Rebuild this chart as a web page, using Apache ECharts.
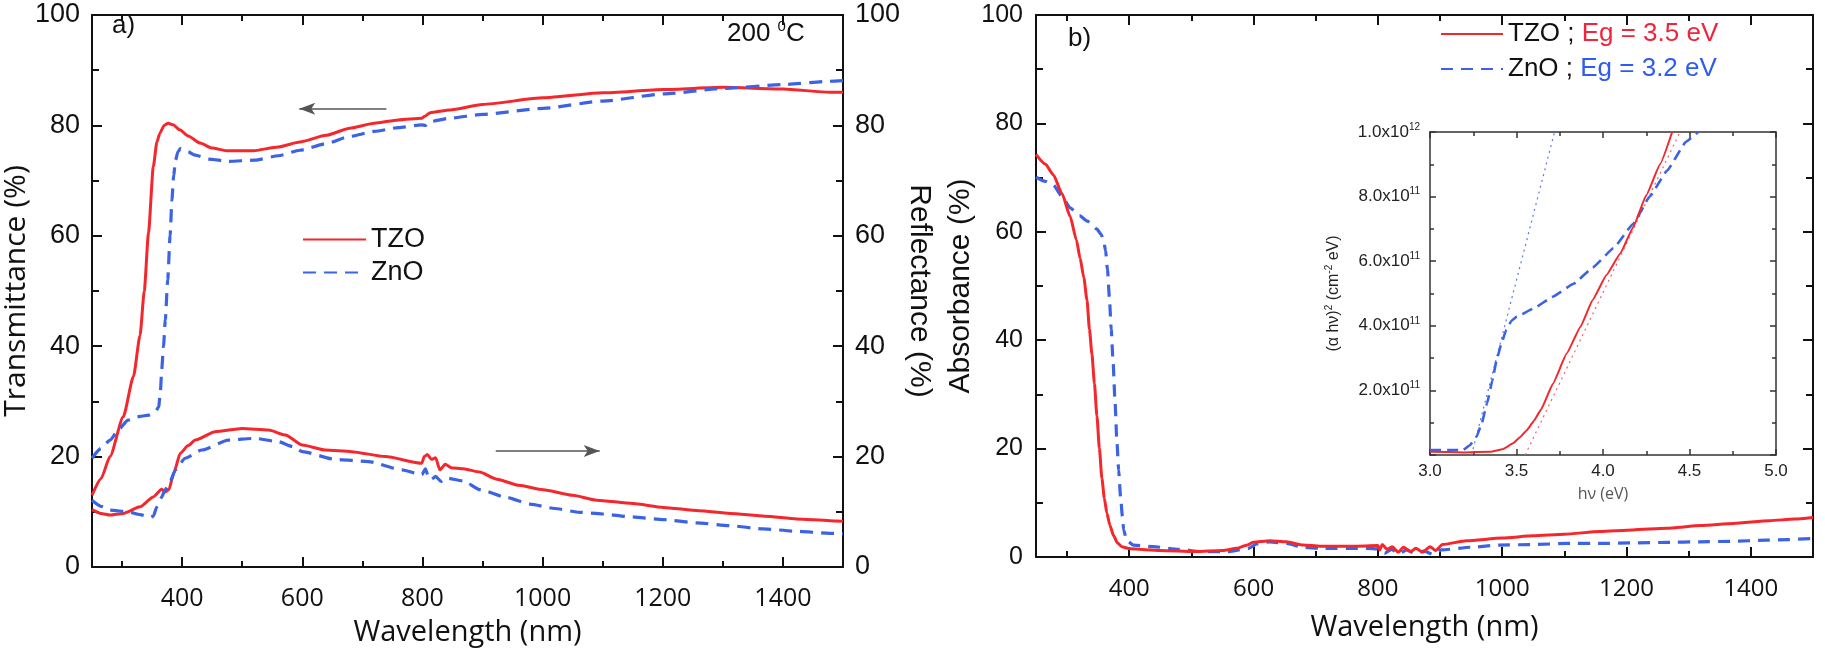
<!DOCTYPE html>
<html>
<head>
<meta charset="utf-8">
<title>TZO / ZnO optical spectra</title>
<script src="https://cdn.jsdelivr.net/npm/echarts@6/dist/echarts.min.js"></script>
<style>
html,body{margin:0;padding:0;background:#fff;}
#chart{width:1825px;height:651px;}
</style>
</head>
<body>
<div id="chart"></div>
<script>
// ---- data ----
// a) transmittance [wavelength nm, %]
var tzoTrans = [[250,13.0],[265,16],[280,20],[302,27.2],[319,34.5],[330,42],[337,50],[344,60.5],[352,72.5],[358,77],[363,78.6],[370,80],[377,80.4],[385,80.1],[396,79.2],[410,78.1],[430,76.8],[450,75.9],[474,75.4],[518,75.4],[560,76.1],[596,77.0],[640,78.2],[679,79.5],[720,80.4],[760,81.0],[799,81.3],[803,81.6],[813,82.3],[846,82.8],[900,83.8],[1001,85.0],[1100,85.9],[1201,86.5],[1301,86.9],[1400,86.6],[1478,86.0],[1500,86.0]];
var znoTrans = [[250,19.7],[265,21.5],[280,23],[295,25],[310,26.6],[330,27.3],[344,27.5],[355,28],[361,29],[364,32],[366,35.7],[369,40],[372,44.7],[376,52],[380,60],[383,66.5],[386,71],[389,73.7],[393,75.2],[397,75.8],[410,75.2],[422,74.6],[444,73.9],[477,73.5],[521,73.7],[560,74.5],[596,75.5],[640,76.7],[679,78.0],[720,78.9],[760,79.6],[799,80.1],[805,80.0],[813,80.7],[846,81.3],[900,82.0],[1001,83.1],[1100,84.4],[1201,85.7],[1301,86.7],[1400,87.4],[1478,88.0],[1500,88.1]];
// a) reflectance [wavelength nm, %]
var tzoRefl = [[250,10.4],[265,9.7],[280,9.4],[302,9.7],[330,10.9],[352,12.7],[366,14.1],[372,13.6],[378,14.0],[386,17.0],[397,20.6],[410,22.0],[422,23.0],[455,24.5],[500,25.1],[544,24.8],[572,23.9],[600,22.1],[638,21.2],[682,20.9],[738,20.0],[799,18.8],[803,20.0],[808,20.4],[815,19.5],[822,19.8],[829,17.6],[838,18.6],[848,18.0],[868,17.8],[895,17.2],[924,15.9],[960,14.8],[1001,14.0],[1050,13.0],[1090,12.1],[1150,11.5],[1201,10.8],[1260,10.2],[1312,9.7],[1370,9.2],[1423,8.7],[1478,8.4],[1500,8.3]];
var znoRefl = [[250,12.1],[265,11],[280,10.3],[310,10.0],[330,9.5],[347,9.0],[352,9.2],[358,10.9],[365,12.5],[372,14.0],[380,15.5],[389,17.6],[405,19.7],[433,21.2],[477,23.0],[521,23.3],[560,22.7],[585,21.8],[600,20.9],[655,19.5],[710,19.1],[766,17.6],[799,16.7],[805,17.8],[810,16.3],[814,15.8],[822,16.4],[831,15.5],[840,16.1],[868,15.6],[896,14.0],[940,12.6],[979,11.4],[1020,10.6],[1062,9.9],[1100,9.6],[1145,9.1],[1200,8.6],[1256,8.0],[1310,7.5],[1367,6.9],[1420,6.5],[1478,6.1],[1500,6.0]];
// b) absorbance [wavelength nm, %]
var tzoAbs = [[250,74.3],[265,72.5],[278,70.5],[292,67],[305,62.8],[315,58.5],[321,55.1],[327,51.5],[332,47.4],[336,42],[340,37.4],[344,32],[348,26],[352,20],[356,14.5],[360,10.8],[364,8.1],[369,5.8],[375,3.9],[381,2.6],[388,1.9],[401,1.5],[450,1.2],[506,1.0],[550,1.2],[573,1.6],[590,2.2],[599,2.7],[626,3.0],[653,2.8],[680,2.2],[707,2.0],[760,2.0],[800,2.1],[803,1.3],[807,2.3],[815,1.4],[823,1.9],[833,0.9],[841,1.8],[853,1.0],[861,1.6],[872,0.9],[884,1.9],[893,1.2],[904,2.3],[943,3.0],[1000,3.5],[1050,3.9],[1100,4.2],[1157,4.7],[1210,5.0],[1264,5.3],[1320,5.8],[1372,6.2],[1430,6.7],[1470,7.0],[1500,7.3]];
var znoAbs = [[250,70.1],[265,69.3],[278,68.6],[292,66.5],[305,64.4],[320,63],[332,62.0],[348,60.5],[355,59.5],[359,58.2],[362,56.5],[365,53],[368,48],[371,42],[374,36],[377,29],[380,21.6],[383,16],[386,11.1],[389,7.5],[391,5.0],[396,3.0],[407,2.2],[439,1.9],[480,1.4],[517,1.0],[560,1.0],[592,1.6],[605,2.4],[626,2.8],[653,2.5],[680,1.8],[707,1.6],[782,1.6],[800,1.5],[811,0.7],[822,1.4],[834,0.6],[846,1.3],[861,0.6],[874,1.1],[889,0.5],[902,1.3],[950,1.8],[996,2.2],[1050,2.3],[1104,2.5],[1160,2.5],[1211,2.6],[1265,2.7],[1318,2.8],[1370,2.9],[1425,3.1],[1500,3.4]];
// inset: (alpha h nu)^2 in units of 1e11 cm^-2 eV vs photon energy eV
var tzoTauc = [[3.0,0.1],[3.2,0.08],[3.35,0.1],[3.42,0.18],[3.48,0.36],[3.52,0.55],[3.56,0.77],[3.6,1.05],[3.64,1.39],[3.71,2.2],[3.79,3.14],[3.87,3.97],[3.94,4.8],[4.02,5.57],[4.10,6.24],[4.175,7.06],[4.25,8.04],[4.33,9.0],[4.40,10.0]];
var znoTauc = [[3.0,0.15],[3.1,0.15],[3.19,0.15],[3.23,0.3],[3.27,0.57],[3.3,1.0],[3.33,1.6],[3.36,2.3],[3.385,2.94],[3.41,3.4],[3.44,3.87],[3.47,4.15],[3.5,4.28],[3.6,4.54],[3.71,4.9],[3.83,5.3],[3.94,5.8],[4.06,6.4],[4.175,7.16],[4.27,8.0],[4.37,8.8],[4.48,9.7],[4.55,10.0]];
var tzoFit = [[3.55,0],[4.445,10]];
var znoFit = [[3.24,0],[3.72,10]];
// tick positions (nm)
var wlMajor = [400,600,800,1000,1200,1400];
var wlMinor = [300,500,700,900,1100,1300];

var RED = '#f3272c', BLUE = '#3c63e4', AX = '#111';

function xFrame(grid, pos, min, max, ticks, len, showLine){
  return {type:'value', gridIndex:grid, position:pos, min:min, max:max,
    axisLine:{show:showLine, onZero:false, lineStyle:{color:AX, width:2}},
    axisTick:{show:true, inside:true, length:len, customValues:ticks, lineStyle:{color:AX, width:2}},
    axisLabel:{show:false}, splitLine:{show:false}};
}
function yFrame(grid, pos, max, interval, len, col, w){
  return {type:'value', gridIndex:grid, position:pos, min:0, max:max, interval:interval,
    axisLine:{show:true, onZero:false, lineStyle:{color:col, width:w}},
    axisTick:{show:true, inside:true, length:len, lineStyle:{color:col, width:w}},
    minorTick:{show:true, splitNumber:2, length:Math.round(len*0.65), lineStyle:{color:col, width:w}},
    axisLabel:{show:false}, splitLine:{show:false}, minorSplitLine:{show:false}};
}
function plain(v){ return String(v); }

// panel a axes
var xa = xFrame(0,'bottom',250,1500,wlMajor,10,true);
xa.axisLabel = {show:true, customValues:wlMajor, formatter:plain, margin:19, fontSize:25, fontFamily:'Open Sans', color:AX};
xa.name = 'Wavelength (nm)'; xa.nameLocation = 'middle'; xa.nameGap = 51;
xa.nameTextStyle = {fontSize:29, fontFamily:'Open Sans', color:AX};
// panel b axes
var xb = xFrame(1,'bottom',250,1500,wlMajor,10,true);
xb.axisLabel = {show:true, customValues:wlMajor, formatter:plain, margin:20, fontSize:24, fontFamily:'Open Sans', color:AX};
xb.name = 'Wavelength (nm)'; xb.nameLocation = 'middle'; xb.nameGap = 56;
xb.nameTextStyle = {fontSize:29, fontFamily:'Open Sans', color:AX};
// inset x
var xi = {type:'value', gridIndex:2, position:'bottom', min:3, max:5, interval:0.5,
  axisLine:{show:true, onZero:false, lineStyle:{color:'#333', width:1.5}},
  axisTick:{show:true, inside:true, length:6, lineStyle:{color:'#333', width:1.5}},
  minorTick:{show:true, splitNumber:2, length:4, lineStyle:{color:'#333', width:1.5}},
  axisLabel:{margin:8, fontSize:17, fontFamily:'Liberation Sans', color:'#222', formatter:function(v){return v.toFixed(1);}},
  splitLine:{show:false}, minorSplitLine:{show:false},
  name:'h\u03bd (eV)', nameLocation:'middle', nameGap:31,
  nameTextStyle:{fontSize:16, fontFamily:'Open Sans', color:'#555'}};
var xiTop = JSON.parse(JSON.stringify(xi));
xiTop.position = 'top'; xiTop.axisLabel = {show:false}; xiTop.name = '';

var ya = yFrame(0,'left',100,20,10,AX,2);
ya.axisLabel = {show:true, margin:12, fontSize:27, fontFamily:'Liberation Sans', color:AX};
ya.name = 'Transmittance (%)'; ya.nameLocation = 'middle'; ya.nameGap = 57;
ya.nameTextStyle = {fontSize:30, fontFamily:'Open Sans', color:AX};
var yaR = yFrame(0,'right',100,20,10,AX,2);
yaR.axisLabel = {show:true, margin:12, fontSize:27, fontFamily:'Liberation Sans', color:AX};
yaR.name = 'Reflectance (%)'; yaR.nameLocation = 'middle'; yaR.nameGap = 53; yaR.nameRotate = -90;
yaR.nameTextStyle = {fontSize:30, fontFamily:'Liberation Sans', color:AX};
var yb = yFrame(1,'left',100,20,10,AX,2);
yb.axisLabel = {show:true, margin:13, fontSize:25, fontFamily:'Liberation Sans', color:AX};
yb.name = 'Absorbance (%)'; yb.nameLocation = 'middle'; yb.nameGap = 60;
yb.nameTextStyle = {fontSize:30, fontFamily:'Liberation Sans', color:AX};
var ybR = yFrame(1,'right',100,20,10,AX,2);
var yi = yFrame(2,'left',10,2,6,'#333',1.5);
yi.axisLabel = {show:true, margin:10, fontSize:17, fontFamily:'Liberation Sans', color:'#222', lineHeight:20,
  formatter:function(v){ if(v===0) return ''; if(v>=10) return '1.0x10{sup|12}'; return v.toFixed(1)+'x10{sup|11}'; },
  rich:{sup:{fontSize:10, fontFamily:'Liberation Sans', color:'#222', verticalAlign:'top'}}};
yi.name = '(\u03b1 h\u03bd){sup|2} (cm{sup|-2} eV)'; yi.nameLocation = 'middle'; yi.nameGap = 86;
yi.nameTextStyle = {fontSize:16, fontFamily:'Liberation Sans', color:'#222', lineHeight:20,
  rich:{sup:{fontSize:10, fontFamily:'Liberation Sans', color:'#222', verticalAlign:'top'}}};
var yiR = yFrame(2,'right',10,2,6,'#333',1.5);

function line(name, data, xi_, yi_, color, width, type, extra){
  var s = {type:'line', name:name, data:data, xAxisIndex:xi_, yAxisIndex:yi_,
    symbol:'none', showSymbol:false, smooth:0.2, smoothMonotone:'x',
    lineStyle:{color:color, width:width, type:type}, itemStyle:{color:color}, silent:true};
  if(extra) for(var k in extra) s[k] = extra[k];
  return s;
}
function arrow(x1, x2, y){
  return {silent:true, symbol:['none','arrow'], symbolSize:[9,16], label:{show:false},
    lineStyle:{color:'#555', width:1.6, type:'solid'}, emphasis:{disabled:true},
    data:[[{coord:[x1,y]},{coord:[x2,y]}]]};
}

var option = {
  animation:false,
  backgroundColor:'#fff',
  grid:[
    {left:92, top:15, width:751, height:552, outerBoundsMode:'none'},
    {left:1036, top:15, width:777, height:542, outerBoundsMode:'none'},
    {left:1430, top:132, width:346, height:323, outerBoundsMode:'none'}
  ],
  xAxis:[
    xa, xFrame(0,'bottom',250,1500,wlMinor,6,false),
    xFrame(0,'top',250,1500,wlMajor,10,true), xFrame(0,'top',250,1500,wlMinor,6,false),
    xb, xFrame(1,'bottom',250,1500,wlMinor,6,false),
    xFrame(1,'top',250,1500,wlMajor,10,true), xFrame(1,'top',250,1500,wlMinor,6,false),
    xi, xiTop
  ],
  yAxis:[ya, yaR, yb, ybR, yi, yiR],
  legend:[
    {data:['TZO','ZnO'], left:302, top:226, orient:'vertical', padding:0, itemWidth:63, itemHeight:14, itemGap:6,
     selectedMode:false, itemStyle:{opacity:0},
     textStyle:{fontSize:27, lineHeight:27, fontFamily:'Liberation Sans', color:AX}},
    {data:['TZO ; Eg = 3.5 eV','ZnO ; Eg = 3.2 eV'], left:1440, top:21, orient:'vertical', padding:0,
     itemWidth:62, itemHeight:14, itemGap:9, selectedMode:false, itemStyle:{opacity:0},
     textStyle:{fontSize:26, lineHeight:26, fontFamily:'Liberation Sans', color:AX,
       rich:{r:{fontSize:26, fontFamily:'Liberation Sans', color:'#f0243a'},
             b:{fontSize:26, fontFamily:'Liberation Sans', color:'#2f5bef'}}},
     formatter:function(n){ var p = n.split(' ; '); return p[0]+' ; {'+(p[0]==='TZO'?'r':'b')+'|'+p[1]+'}'; }}
  ],
  graphic:[
    {type:'text', left:112, top:13, style:{text:'a)', fontSize:26, fontFamily:'Liberation Sans', fill:AX}},
    {type:'text', left:1068, top:26, style:{text:'b)', fontSize:26, fontFamily:'Liberation Sans', fill:AX}},
    {type:'text', left:727, top:19, style:{text:'200 {s|0}C', fontSize:26, lineHeight:30, fontFamily:'Liberation Sans', fill:AX,
      rich:{s:{fontSize:15, fontFamily:'Liberation Sans', fill:AX, verticalAlign:'top'}}}}
  ],
  series:[
    line('TZO', tzoTrans, 0, 0, RED, 3, 'solid', {markLine:arrow(740, 595, 83)}),
    line('ZnO', znoTrans, 0, 0, BLUE, 3.2, [13,8]),
    line('TZO', tzoRefl, 0, 1, RED, 3, 'solid', {markLine:arrow(922, 1095, 21)}),
    line('ZnO', znoRefl, 0, 1, BLUE, 3.2, [13,8]),
    line('ZnO ; Eg = 3.2 eV', znoAbs, 4, 2, BLUE, 3.2, [12,8]),
    line('TZO ; Eg = 3.5 eV', tzoAbs, 4, 2, RED, 3, 'solid'),
    line('ZnO fit', znoFit, 8, 4, '#5a78e8', 1.2, [2,4], {smooth:false}),
    line('TZO fit', tzoFit, 8, 4, '#f06070', 1.2, [2,4], {smooth:false}),
    line('ZnO inset', znoTauc, 8, 4, BLUE, 2.6, [11,6], {smooth:0.1}),
    line('TZO inset', tzoTauc, 8, 4, RED, 2, 'solid', {smooth:0.1})
  ]
};

var chart = echarts.init(document.getElementById('chart'));
chart.setOption(option);
</script>
</body>
</html>
